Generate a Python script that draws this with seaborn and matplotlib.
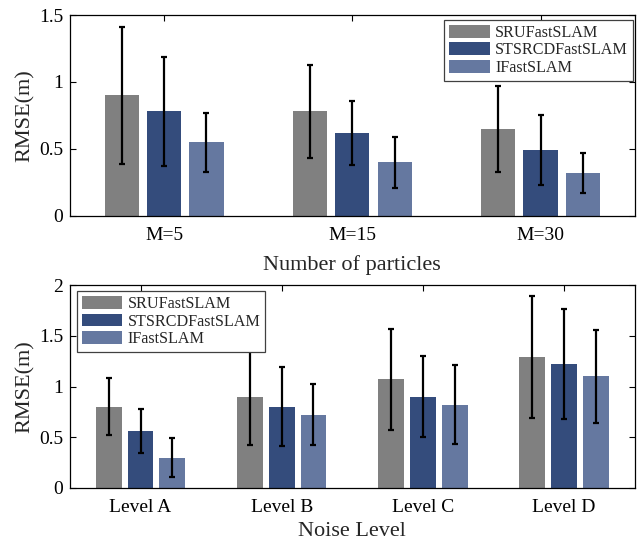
import numpy as np
import pandas as pd
import matplotlib
matplotlib.use("Agg")
import matplotlib.pyplot as plt
import seaborn as sns

methods = ["SRUFastSLAM", "STSRCDFastSLAM", "IFastSLAM"]
colors = ["#808080", "#344C7C", "#6578A0"]

particles = ["M=5", "M=15", "M=30"]
p_sru = [0.90, 0.78, 0.65]
p_sts = [0.78, 0.62, 0.49]
p_if = [0.55, 0.40, 0.32]
p_sru_err = [0.51, 0.35, 0.32]
p_sts_err = [0.41, 0.24, 0.26]
p_if_err = [0.22, 0.19, 0.15]

levels = ["Level A", "Level B", "Level C", "Level D"]
n_sru = [0.80, 0.90, 1.07, 1.29]
n_sts = [0.56, 0.80, 0.90, 1.22]
n_if = [0.30, 0.72, 0.82, 1.10]
n_sru_err = [0.28, 0.48, 0.50, 0.60]
n_sts_err = [0.22, 0.39, 0.40, 0.54]
n_if_err = [0.19, 0.30, 0.39, 0.46]

sns.set_theme(style="white")
plt.rcParams["font.family"] = ["Liberation Serif", "DejaVu Serif"]

fig = plt.figure(figsize=(6.38, 5.44), dpi=100)
ax1 = fig.add_axes([0.1097, 0.603, 0.885, 0.3694])
ax2 = fig.add_axes([0.1097, 0.103, 0.885, 0.373])


def draw(ax, cats, vals, errs, xlabel, yticks, yticklabels, ylim, legloc,
         legbox, xlabelpad):
    rows = []
    for m, v, e in zip(methods, vals, errs):
        for c, vv, ee in zip(cats, v, e):
            rows.append({"cat": c, "method": m, "val": vv, "err": ee})
    df = pd.DataFrame(rows)
    sns.barplot(data=df, x="cat", y="val", hue="method", hue_order=methods,
                order=cats, palette=colors, width=0.675, gap=0.19,
                errorbar=None, saturation=1, ax=ax, linewidth=0)
    for cont, m in zip(ax.containers, methods):
        sub = df[df.method == m].set_index("cat").loc[cats]
        xs = [b.get_x() + b.get_width() / 2 for b in cont]
        ax.errorbar(xs, sub["val"].values, yerr=sub["err"].values, fmt="none",
                    ecolor="black", elinewidth=1.6, capsize=2.5, capthick=1.6,
                    zorder=3)
    ax.set_xlim(-0.5, len(cats) - 0.5)
    ax.set_ylim(*ylim)
    ax.set_yticks(yticks)
    ax.set_yticklabels(yticklabels)
    ax.set_xlabel(xlabel, fontsize=16, labelpad=xlabelpad)
    ax.set_ylabel("RMSE(m)", fontsize=16, labelpad=3)
    ax.tick_params(axis="both", direction="in", length=4, width=0.8,
                   labelsize=14, top=True, right=True, bottom=True, left=True,
                   colors="black")
    ax.tick_params(axis="x", pad=8)
    ax.tick_params(axis="y", pad=5)
    for s in ax.spines.values():
        s.set_visible(True)
        s.set_color("black")
        s.set_linewidth(0.9)
    leg = ax.legend(loc=legloc, bbox_to_anchor=legbox, fontsize=11.6,
                    frameon=True, fancybox=False, framealpha=1,
                    handlelength=2.5, handleheight=0.85, labelspacing=0.1,
                    borderpad=0.3, handletextpad=0.35, borderaxespad=0)
    leg.get_frame().set_edgecolor("#404040")
    leg.get_frame().set_linewidth(0.9)
    leg.set_zorder(10)
    leg.set_title(None)


draw(ax1, particles, [p_sru, p_sts, p_if], [p_sru_err, p_sts_err, p_if_err],
     "Number of particles", [0, 0.5, 1, 1.5], ["0", "0.5", "1", "1.5"],
     (0, 1.5), "upper right", (0.997, 0.975), 8)
draw(ax2, levels, [n_sru, n_sts, n_if], [n_sru_err, n_sts_err, n_if_err],
     "Noise Level", [0, 0.5, 1, 1.5, 2], ["0", "0.5", "1", "1.5", "2"],
     (0, 2), "upper left", (0.012, 0.97), 4)

fig.savefig("out.png", dpi=100)
